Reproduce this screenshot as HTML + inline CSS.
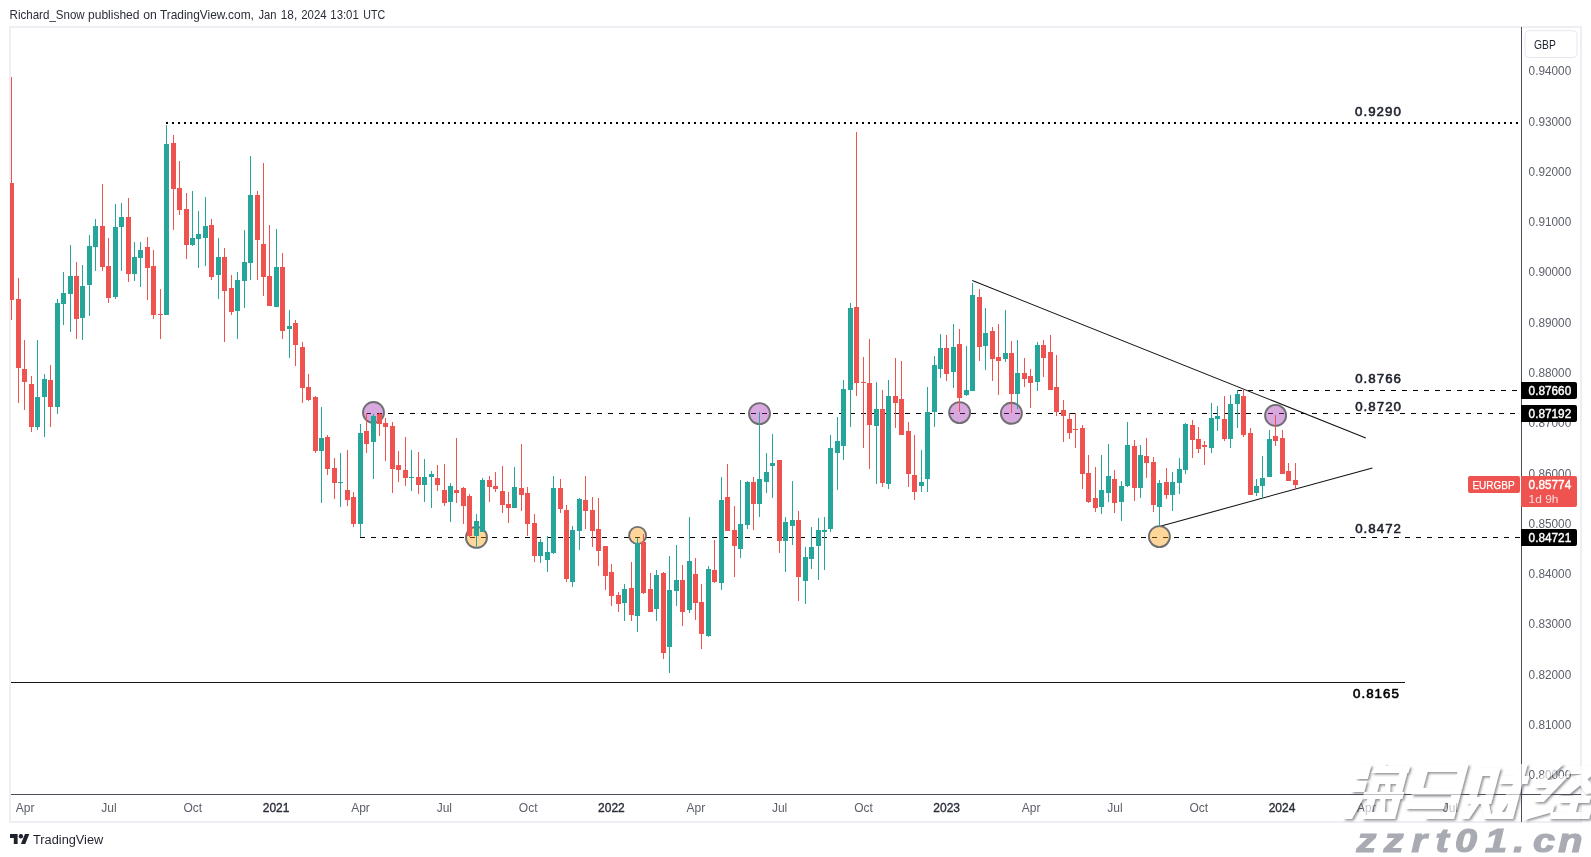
<!DOCTYPE html>
<html><head><meta charset="utf-8"><title>EURGBP chart</title>
<style>
html,body{margin:0;padding:0;background:#fff;}
body{width:1591px;height:857px;overflow:hidden;position:relative;font-family:"Liberation Sans",sans-serif;}
svg{position:absolute;left:0;top:0;}
text{font-family:"Liberation Sans",sans-serif;}
.ax{font-size:12px;fill:#5d606b;}
.tm{font-size:12px;fill:#5d606b;text-anchor:middle;}
.tmb{font-size:12px;fill:#2a2e39;text-anchor:middle;stroke:#2a2e39;stroke-width:0.35px;}
.lbl{font-size:13.3px;fill:#1e222d;stroke:#1e222d;stroke-width:0.6px;stroke-linejoin:round;}
.tag{font-size:12px;fill:#fff;stroke:#fff;stroke-width:0.4px;}
</style></head><body>
<svg width="1591" height="857" viewBox="0 0 1591 857" style="will-change:transform">

<text x="9.6" y="19" font-size="12.4px" fill="#2a2e39" textLength="75.1" lengthAdjust="spacingAndGlyphs">Richard_Snow</text>
<text x="88.0" y="19" font-size="12.4px" fill="#2a2e39" textLength="51.5" lengthAdjust="spacingAndGlyphs">published</text>
<text x="143.3" y="19" font-size="12.4px" fill="#2a2e39" textLength="13.6" lengthAdjust="spacingAndGlyphs">on</text>
<text x="159.9" y="19" font-size="12.4px" fill="#2a2e39" textLength="94.0" lengthAdjust="spacingAndGlyphs">TradingView.com,</text>
<text x="258.5" y="19" font-size="12.4px" fill="#2a2e39" textLength="18.0" lengthAdjust="spacingAndGlyphs">Jan</text>
<text x="280.8" y="19" font-size="12.4px" fill="#2a2e39" textLength="16.4" lengthAdjust="spacingAndGlyphs">18,</text>
<text x="301.2" y="19" font-size="12.4px" fill="#2a2e39" textLength="25.4" lengthAdjust="spacingAndGlyphs">2024</text>
<text x="330.3" y="19" font-size="12.4px" fill="#2a2e39" textLength="28.5" lengthAdjust="spacingAndGlyphs">13:01</text>
<text x="363.3" y="19" font-size="12.4px" fill="#2a2e39" textLength="21.9" lengthAdjust="spacingAndGlyphs">UTC</text>
<rect x="10" y="27" width="1571" height="795" fill="#fff" stroke="#eeeff5" stroke-width="2"/>
<defs><clipPath id="cp"><rect x="10" y="28" width="1511" height="766"/></clipPath></defs>
<g clip-path="url(#cp)">
<line x1="166" y1="123" x2="1521" y2="123" stroke="#000" stroke-width="2" stroke-dasharray="2 4" shape-rendering="crispEdges"/>
<line x1="1237" y1="390.5" x2="1521" y2="390.5" stroke="#000" stroke-width="1" stroke-dasharray="5 6" stroke-dashoffset="0" shape-rendering="crispEdges"/>
<line x1="366" y1="413.5" x2="1521" y2="413.5" stroke="#000" stroke-width="1" stroke-dasharray="5 6" stroke-dashoffset="0" shape-rendering="crispEdges"/>
<line x1="360" y1="537.5" x2="1521" y2="537.5" stroke="#000" stroke-width="1" stroke-dasharray="5 6" stroke-dashoffset="0" shape-rendering="crispEdges"/>
<line x1="11" y1="682.5" x2="1404.8" y2="682.5" stroke="#151515" stroke-width="1" shape-rendering="crispEdges"/>
<line x1="972.3" y1="280.5" x2="1365.8" y2="438" stroke="#111" stroke-width="1.05"/>
<line x1="1159.4" y1="526.5" x2="1372.4" y2="467.9" stroke="#111" stroke-width="1.05"/>
<circle cx="373.5" cy="412.5" r="10.5" fill="#9c27b0" fill-opacity="0.4" stroke="#6f6f72" stroke-width="1.9"/>
<circle cx="759.5" cy="413.6" r="10.5" fill="#9c27b0" fill-opacity="0.4" stroke="#6f6f72" stroke-width="1.9"/>
<circle cx="959.6" cy="412.6" r="10.5" fill="#9c27b0" fill-opacity="0.4" stroke="#6f6f72" stroke-width="1.9"/>
<circle cx="1011.4" cy="413.3" r="10.5" fill="#9c27b0" fill-opacity="0.4" stroke="#6f6f72" stroke-width="1.9"/>
<circle cx="1275.6" cy="415.4" r="10.5" fill="#9c27b0" fill-opacity="0.4" stroke="#6f6f72" stroke-width="1.9"/>
<circle cx="476.5" cy="537.4" r="10.5" fill="#ff9800" fill-opacity="0.4" stroke="#6f6f72" stroke-width="1.9"/>
<circle cx="637.6" cy="535.4" r="8.5" fill="#ff9800" fill-opacity="0.4" stroke="#6f6f72" stroke-width="1.9"/>
<circle cx="1159.4" cy="536.6" r="10.5" fill="#ff9800" fill-opacity="0.4" stroke="#6f6f72" stroke-width="1.9"/>
<g shape-rendering="crispEdges">
<rect x="11" y="77" width="1" height="243" fill="#ef5350"/><rect x="9" y="183" width="5" height="117" fill="#ef5350"/>
<rect x="18" y="278" width="1" height="125" fill="#ef5350"/><rect x="16" y="299" width="5" height="69" fill="#ef5350"/>
<rect x="24" y="340" width="1" height="70" fill="#ef5350"/><rect x="22" y="369" width="5" height="13" fill="#ef5350"/>
<rect x="31" y="376" width="1" height="56" fill="#ef5350"/><rect x="29" y="384" width="5" height="43" fill="#ef5350"/>
<rect x="37" y="340" width="1" height="90" fill="#26a69a"/><rect x="35" y="397" width="5" height="30" fill="#26a69a"/>
<rect x="44" y="374" width="1" height="63" fill="#26a69a"/><rect x="42" y="379" width="5" height="18" fill="#26a69a"/>
<rect x="50" y="365" width="1" height="62" fill="#ef5350"/><rect x="48" y="380" width="5" height="27" fill="#ef5350"/>
<rect x="57" y="299" width="1" height="115" fill="#26a69a"/><rect x="55" y="303" width="5" height="104" fill="#26a69a"/>
<rect x="63" y="272" width="1" height="53" fill="#26a69a"/><rect x="61" y="293" width="5" height="11" fill="#26a69a"/>
<rect x="70" y="245" width="1" height="87" fill="#26a69a"/><rect x="68" y="276" width="5" height="18" fill="#26a69a"/>
<rect x="76" y="262" width="1" height="77" fill="#ef5350"/><rect x="74" y="276" width="5" height="43" fill="#ef5350"/>
<rect x="82" y="265" width="1" height="75" fill="#26a69a"/><rect x="80" y="286" width="5" height="32" fill="#26a69a"/>
<rect x="89" y="235" width="1" height="81" fill="#26a69a"/><rect x="87" y="246" width="5" height="39" fill="#26a69a"/>
<rect x="95" y="219" width="1" height="52" fill="#26a69a"/><rect x="93" y="226" width="5" height="21" fill="#26a69a"/>
<rect x="102" y="184" width="1" height="87" fill="#ef5350"/><rect x="100" y="226" width="5" height="41" fill="#ef5350"/>
<rect x="108" y="238" width="1" height="65" fill="#ef5350"/><rect x="106" y="266" width="5" height="32" fill="#ef5350"/>
<rect x="115" y="204" width="1" height="95" fill="#26a69a"/><rect x="113" y="227" width="5" height="70" fill="#26a69a"/>
<rect x="121" y="203" width="1" height="68" fill="#26a69a"/><rect x="119" y="217" width="5" height="10" fill="#26a69a"/>
<rect x="128" y="198" width="1" height="84" fill="#ef5350"/><rect x="126" y="217" width="5" height="57" fill="#ef5350"/>
<rect x="134" y="242" width="1" height="39" fill="#26a69a"/><rect x="132" y="257" width="5" height="17" fill="#26a69a"/>
<rect x="140" y="242" width="1" height="45" fill="#26a69a"/><rect x="138" y="250" width="5" height="8" fill="#26a69a"/>
<rect x="147" y="237" width="1" height="63" fill="#ef5350"/><rect x="145" y="247" width="5" height="21" fill="#ef5350"/>
<rect x="153" y="250" width="1" height="69" fill="#ef5350"/><rect x="151" y="266" width="5" height="49" fill="#ef5350"/>
<rect x="160" y="289" width="1" height="50" fill="#ef5350"/><rect x="158" y="314" width="5" height="1" fill="#ef5350"/>
<rect x="166" y="125" width="1" height="190" fill="#26a69a"/><rect x="164" y="144" width="5" height="171" fill="#26a69a"/>
<rect x="173" y="135" width="1" height="95" fill="#ef5350"/><rect x="171" y="143" width="5" height="46" fill="#ef5350"/>
<rect x="179" y="161" width="1" height="54" fill="#ef5350"/><rect x="177" y="188" width="5" height="22" fill="#ef5350"/>
<rect x="186" y="193" width="1" height="66" fill="#ef5350"/><rect x="184" y="209" width="5" height="36" fill="#ef5350"/>
<rect x="192" y="191" width="1" height="55" fill="#26a69a"/><rect x="190" y="238" width="5" height="7" fill="#26a69a"/>
<rect x="198" y="211" width="1" height="57" fill="#26a69a"/><rect x="196" y="234" width="5" height="5" fill="#26a69a"/>
<rect x="205" y="197" width="1" height="69" fill="#26a69a"/><rect x="203" y="226" width="5" height="12" fill="#26a69a"/>
<rect x="211" y="219" width="1" height="61" fill="#ef5350"/><rect x="209" y="225" width="5" height="52" fill="#ef5350"/>
<rect x="218" y="238" width="1" height="61" fill="#26a69a"/><rect x="216" y="257" width="5" height="18" fill="#26a69a"/>
<rect x="224" y="248" width="1" height="94" fill="#ef5350"/><rect x="222" y="257" width="5" height="34" fill="#ef5350"/>
<rect x="231" y="275" width="1" height="40" fill="#ef5350"/><rect x="229" y="288" width="5" height="24" fill="#ef5350"/>
<rect x="237" y="272" width="1" height="67" fill="#26a69a"/><rect x="235" y="280" width="5" height="31" fill="#26a69a"/>
<rect x="244" y="230" width="1" height="78" fill="#26a69a"/><rect x="242" y="262" width="5" height="19" fill="#26a69a"/>
<rect x="250" y="156" width="1" height="124" fill="#26a69a"/><rect x="248" y="195" width="5" height="68" fill="#26a69a"/>
<rect x="257" y="191" width="1" height="89" fill="#ef5350"/><rect x="255" y="195" width="5" height="45" fill="#ef5350"/>
<rect x="263" y="163" width="1" height="133" fill="#ef5350"/><rect x="261" y="244" width="5" height="33" fill="#ef5350"/>
<rect x="269" y="225" width="1" height="81" fill="#ef5350"/><rect x="267" y="276" width="5" height="30" fill="#ef5350"/>
<rect x="276" y="229" width="1" height="78" fill="#26a69a"/><rect x="274" y="267" width="5" height="40" fill="#26a69a"/>
<rect x="282" y="253" width="1" height="86" fill="#ef5350"/><rect x="280" y="267" width="5" height="64" fill="#ef5350"/>
<rect x="289" y="310" width="1" height="48" fill="#26a69a"/><rect x="287" y="326" width="5" height="3" fill="#26a69a"/>
<rect x="295" y="320" width="1" height="46" fill="#ef5350"/><rect x="293" y="323" width="5" height="22" fill="#ef5350"/>
<rect x="302" y="342" width="1" height="61" fill="#ef5350"/><rect x="300" y="347" width="5" height="41" fill="#ef5350"/>
<rect x="308" y="374" width="1" height="27" fill="#ef5350"/><rect x="306" y="387" width="5" height="13" fill="#ef5350"/>
<rect x="315" y="396" width="1" height="57" fill="#ef5350"/><rect x="313" y="397" width="5" height="54" fill="#ef5350"/>
<rect x="321" y="407" width="1" height="96" fill="#26a69a"/><rect x="319" y="438" width="5" height="13" fill="#26a69a"/>
<rect x="327" y="435" width="1" height="40" fill="#ef5350"/><rect x="325" y="437" width="5" height="32" fill="#ef5350"/>
<rect x="334" y="458" width="1" height="41" fill="#ef5350"/><rect x="332" y="468" width="5" height="15" fill="#ef5350"/>
<rect x="340" y="453" width="1" height="54" fill="#26a69a"/><rect x="338" y="482" width="5" height="1" fill="#26a69a"/>
<rect x="347" y="450" width="1" height="56" fill="#ef5350"/><rect x="345" y="490" width="5" height="10" fill="#ef5350"/>
<rect x="353" y="492" width="1" height="35" fill="#ef5350"/><rect x="351" y="497" width="5" height="27" fill="#ef5350"/>
<rect x="360" y="424" width="1" height="113" fill="#26a69a"/><rect x="358" y="433" width="5" height="91" fill="#26a69a"/>
<rect x="366" y="413" width="1" height="40" fill="#ef5350"/><rect x="364" y="431" width="5" height="13" fill="#ef5350"/>
<rect x="373" y="414" width="1" height="65" fill="#26a69a"/><rect x="371" y="416" width="5" height="26" fill="#26a69a"/>
<rect x="379" y="413" width="1" height="23" fill="#ef5350"/><rect x="377" y="414" width="5" height="10" fill="#ef5350"/>
<rect x="385" y="418" width="1" height="43" fill="#ef5350"/><rect x="383" y="423" width="5" height="4" fill="#ef5350"/>
<rect x="392" y="422" width="1" height="71" fill="#ef5350"/><rect x="390" y="426" width="5" height="43" fill="#ef5350"/>
<rect x="398" y="451" width="1" height="31" fill="#ef5350"/><rect x="396" y="465" width="5" height="5" fill="#ef5350"/>
<rect x="405" y="437" width="1" height="49" fill="#ef5350"/><rect x="403" y="470" width="5" height="8" fill="#ef5350"/>
<rect x="411" y="450" width="1" height="41" fill="#26a69a"/><rect x="409" y="477" width="5" height="1" fill="#26a69a"/>
<rect x="418" y="452" width="1" height="42" fill="#ef5350"/><rect x="416" y="477" width="5" height="8" fill="#ef5350"/>
<rect x="424" y="459" width="1" height="43" fill="#26a69a"/><rect x="422" y="477" width="5" height="8" fill="#26a69a"/>
<rect x="431" y="471" width="1" height="37" fill="#26a69a"/><rect x="429" y="474" width="5" height="3" fill="#26a69a"/>
<rect x="437" y="465" width="1" height="26" fill="#ef5350"/><rect x="435" y="478" width="5" height="7" fill="#ef5350"/>
<rect x="444" y="464" width="1" height="42" fill="#ef5350"/><rect x="442" y="490" width="5" height="13" fill="#ef5350"/>
<rect x="450" y="483" width="1" height="39" fill="#26a69a"/><rect x="448" y="486" width="5" height="16" fill="#26a69a"/>
<rect x="456" y="438" width="1" height="65" fill="#ef5350"/><rect x="454" y="490" width="5" height="3" fill="#ef5350"/>
<rect x="463" y="487" width="1" height="37" fill="#ef5350"/><rect x="461" y="488" width="5" height="18" fill="#ef5350"/>
<rect x="469" y="494" width="1" height="43" fill="#ef5350"/><rect x="467" y="496" width="5" height="40" fill="#ef5350"/>
<rect x="476" y="514" width="1" height="34" fill="#26a69a"/><rect x="474" y="521" width="5" height="15" fill="#26a69a"/>
<rect x="482" y="478" width="1" height="54" fill="#26a69a"/><rect x="480" y="480" width="5" height="52" fill="#26a69a"/>
<rect x="489" y="476" width="1" height="26" fill="#ef5350"/><rect x="487" y="480" width="5" height="7" fill="#ef5350"/>
<rect x="495" y="472" width="1" height="20" fill="#ef5350"/><rect x="493" y="486" width="5" height="3" fill="#ef5350"/>
<rect x="502" y="466" width="1" height="47" fill="#ef5350"/><rect x="500" y="491" width="5" height="14" fill="#ef5350"/>
<rect x="508" y="492" width="1" height="31" fill="#ef5350"/><rect x="506" y="504" width="5" height="4" fill="#ef5350"/>
<rect x="514" y="467" width="1" height="41" fill="#26a69a"/><rect x="512" y="487" width="5" height="21" fill="#26a69a"/>
<rect x="521" y="444" width="1" height="67" fill="#ef5350"/><rect x="519" y="488" width="5" height="7" fill="#ef5350"/>
<rect x="527" y="487" width="1" height="49" fill="#ef5350"/><rect x="525" y="493" width="5" height="31" fill="#ef5350"/>
<rect x="534" y="514" width="1" height="48" fill="#ef5350"/><rect x="532" y="523" width="5" height="33" fill="#ef5350"/>
<rect x="540" y="539" width="1" height="24" fill="#26a69a"/><rect x="538" y="542" width="5" height="14" fill="#26a69a"/>
<rect x="547" y="536" width="1" height="36" fill="#26a69a"/><rect x="545" y="552" width="5" height="8" fill="#26a69a"/>
<rect x="553" y="476" width="1" height="78" fill="#26a69a"/><rect x="551" y="488" width="5" height="65" fill="#26a69a"/>
<rect x="560" y="479" width="1" height="34" fill="#ef5350"/><rect x="558" y="488" width="5" height="21" fill="#ef5350"/>
<rect x="566" y="505" width="1" height="77" fill="#ef5350"/><rect x="564" y="510" width="5" height="69" fill="#ef5350"/>
<rect x="572" y="526" width="1" height="61" fill="#26a69a"/><rect x="570" y="530" width="5" height="52" fill="#26a69a"/>
<rect x="579" y="498" width="1" height="52" fill="#26a69a"/><rect x="577" y="499" width="5" height="32" fill="#26a69a"/>
<rect x="585" y="476" width="1" height="53" fill="#ef5350"/><rect x="583" y="500" width="5" height="11" fill="#ef5350"/>
<rect x="592" y="497" width="1" height="50" fill="#ef5350"/><rect x="590" y="510" width="5" height="21" fill="#ef5350"/>
<rect x="598" y="498" width="1" height="68" fill="#ef5350"/><rect x="596" y="529" width="5" height="22" fill="#ef5350"/>
<rect x="605" y="546" width="1" height="44" fill="#ef5350"/><rect x="603" y="546" width="5" height="30" fill="#ef5350"/>
<rect x="611" y="564" width="1" height="42" fill="#ef5350"/><rect x="609" y="572" width="5" height="24" fill="#ef5350"/>
<rect x="618" y="592" width="1" height="20" fill="#ef5350"/><rect x="616" y="595" width="5" height="9" fill="#ef5350"/>
<rect x="624" y="584" width="1" height="37" fill="#26a69a"/><rect x="622" y="589" width="5" height="14" fill="#26a69a"/>
<rect x="631" y="562" width="1" height="59" fill="#ef5350"/><rect x="629" y="588" width="5" height="27" fill="#ef5350"/>
<rect x="637" y="538" width="1" height="94" fill="#26a69a"/><rect x="635" y="543" width="5" height="73" fill="#26a69a"/>
<rect x="643" y="534" width="1" height="60" fill="#ef5350"/><rect x="641" y="542" width="5" height="51" fill="#ef5350"/>
<rect x="650" y="573" width="1" height="39" fill="#ef5350"/><rect x="648" y="589" width="5" height="23" fill="#ef5350"/>
<rect x="656" y="570" width="1" height="51" fill="#26a69a"/><rect x="654" y="575" width="5" height="34" fill="#26a69a"/>
<rect x="663" y="572" width="1" height="87" fill="#ef5350"/><rect x="661" y="573" width="5" height="80" fill="#ef5350"/>
<rect x="669" y="556" width="1" height="117" fill="#26a69a"/><rect x="667" y="590" width="5" height="57" fill="#26a69a"/>
<rect x="676" y="545" width="1" height="61" fill="#26a69a"/><rect x="674" y="580" width="5" height="11" fill="#26a69a"/>
<rect x="682" y="565" width="1" height="61" fill="#ef5350"/><rect x="680" y="580" width="5" height="32" fill="#ef5350"/>
<rect x="689" y="517" width="1" height="96" fill="#26a69a"/><rect x="687" y="561" width="5" height="49" fill="#26a69a"/>
<rect x="695" y="558" width="1" height="62" fill="#ef5350"/><rect x="693" y="574" width="5" height="29" fill="#ef5350"/>
<rect x="701" y="584" width="1" height="65" fill="#ef5350"/><rect x="699" y="602" width="5" height="32" fill="#ef5350"/>
<rect x="708" y="566" width="1" height="71" fill="#26a69a"/><rect x="706" y="569" width="5" height="67" fill="#26a69a"/>
<rect x="714" y="540" width="1" height="43" fill="#ef5350"/><rect x="712" y="570" width="5" height="12" fill="#ef5350"/>
<rect x="721" y="477" width="1" height="113" fill="#26a69a"/><rect x="719" y="500" width="5" height="83" fill="#26a69a"/>
<rect x="727" y="464" width="1" height="67" fill="#ef5350"/><rect x="725" y="497" width="5" height="34" fill="#ef5350"/>
<rect x="734" y="506" width="1" height="71" fill="#ef5350"/><rect x="732" y="530" width="5" height="16" fill="#ef5350"/>
<rect x="740" y="480" width="1" height="78" fill="#26a69a"/><rect x="738" y="524" width="5" height="25" fill="#26a69a"/>
<rect x="747" y="481" width="1" height="48" fill="#26a69a"/><rect x="745" y="482" width="5" height="43" fill="#26a69a"/>
<rect x="753" y="477" width="1" height="53" fill="#ef5350"/><rect x="751" y="482" width="5" height="22" fill="#ef5350"/>
<rect x="759" y="412" width="1" height="105" fill="#26a69a"/><rect x="757" y="479" width="5" height="25" fill="#26a69a"/>
<rect x="766" y="453" width="1" height="40" fill="#26a69a"/><rect x="764" y="472" width="5" height="10" fill="#26a69a"/>
<rect x="772" y="434" width="1" height="64" fill="#26a69a"/><rect x="770" y="463" width="5" height="3" fill="#26a69a"/>
<rect x="779" y="460" width="1" height="93" fill="#ef5350"/><rect x="777" y="460" width="5" height="81" fill="#ef5350"/>
<rect x="785" y="517" width="1" height="55" fill="#26a69a"/><rect x="783" y="522" width="5" height="19" fill="#26a69a"/>
<rect x="792" y="481" width="1" height="64" fill="#26a69a"/><rect x="790" y="520" width="5" height="6" fill="#26a69a"/>
<rect x="798" y="511" width="1" height="90" fill="#ef5350"/><rect x="796" y="520" width="5" height="57" fill="#ef5350"/>
<rect x="805" y="547" width="1" height="57" fill="#26a69a"/><rect x="803" y="557" width="5" height="24" fill="#26a69a"/>
<rect x="811" y="527" width="1" height="42" fill="#26a69a"/><rect x="809" y="547" width="5" height="12" fill="#26a69a"/>
<rect x="818" y="518" width="1" height="62" fill="#26a69a"/><rect x="816" y="530" width="5" height="16" fill="#26a69a"/>
<rect x="824" y="517" width="1" height="53" fill="#26a69a"/><rect x="822" y="530" width="5" height="2" fill="#26a69a"/>
<rect x="830" y="435" width="1" height="97" fill="#26a69a"/><rect x="828" y="448" width="5" height="81" fill="#26a69a"/>
<rect x="837" y="417" width="1" height="73" fill="#26a69a"/><rect x="835" y="441" width="5" height="12" fill="#26a69a"/>
<rect x="843" y="380" width="1" height="80" fill="#26a69a"/><rect x="841" y="389" width="5" height="57" fill="#26a69a"/>
<rect x="850" y="303" width="1" height="124" fill="#26a69a"/><rect x="848" y="308" width="5" height="82" fill="#26a69a"/>
<rect x="856" y="132" width="1" height="264" fill="#ef5350"/><rect x="854" y="307" width="5" height="76" fill="#ef5350"/>
<rect x="863" y="357" width="1" height="91" fill="#ef5350"/><rect x="861" y="382" width="5" height="1" fill="#ef5350"/>
<rect x="869" y="339" width="1" height="130" fill="#ef5350"/><rect x="867" y="383" width="5" height="42" fill="#ef5350"/>
<rect x="876" y="382" width="1" height="102" fill="#26a69a"/><rect x="874" y="409" width="5" height="17" fill="#26a69a"/>
<rect x="882" y="390" width="1" height="97" fill="#ef5350"/><rect x="880" y="409" width="5" height="74" fill="#ef5350"/>
<rect x="888" y="380" width="1" height="109" fill="#26a69a"/><rect x="886" y="396" width="5" height="88" fill="#26a69a"/>
<rect x="895" y="358" width="1" height="70" fill="#ef5350"/><rect x="893" y="396" width="5" height="7" fill="#ef5350"/>
<rect x="901" y="361" width="1" height="74" fill="#ef5350"/><rect x="899" y="399" width="5" height="36" fill="#ef5350"/>
<rect x="908" y="422" width="1" height="65" fill="#ef5350"/><rect x="906" y="431" width="5" height="43" fill="#ef5350"/>
<rect x="914" y="435" width="1" height="65" fill="#ef5350"/><rect x="912" y="475" width="5" height="17" fill="#ef5350"/>
<rect x="921" y="450" width="1" height="42" fill="#26a69a"/><rect x="919" y="482" width="5" height="4" fill="#26a69a"/>
<rect x="927" y="387" width="1" height="105" fill="#26a69a"/><rect x="925" y="412" width="5" height="67" fill="#26a69a"/>
<rect x="934" y="356" width="1" height="71" fill="#26a69a"/><rect x="932" y="365" width="5" height="47" fill="#26a69a"/>
<rect x="940" y="334" width="1" height="44" fill="#26a69a"/><rect x="938" y="348" width="5" height="21" fill="#26a69a"/>
<rect x="946" y="335" width="1" height="46" fill="#ef5350"/><rect x="944" y="348" width="5" height="26" fill="#ef5350"/>
<rect x="953" y="324" width="1" height="64" fill="#26a69a"/><rect x="951" y="347" width="5" height="25" fill="#26a69a"/>
<rect x="959" y="329" width="1" height="83" fill="#ef5350"/><rect x="957" y="344" width="5" height="54" fill="#ef5350"/>
<rect x="966" y="346" width="1" height="50" fill="#26a69a"/><rect x="964" y="390" width="5" height="5" fill="#26a69a"/>
<rect x="972" y="283" width="1" height="108" fill="#26a69a"/><rect x="970" y="295" width="5" height="96" fill="#26a69a"/>
<rect x="979" y="289" width="1" height="72" fill="#ef5350"/><rect x="977" y="297" width="5" height="50" fill="#ef5350"/>
<rect x="985" y="308" width="1" height="62" fill="#26a69a"/><rect x="983" y="333" width="5" height="13" fill="#26a69a"/>
<rect x="992" y="327" width="1" height="54" fill="#ef5350"/><rect x="990" y="331" width="5" height="28" fill="#ef5350"/>
<rect x="998" y="324" width="1" height="71" fill="#ef5350"/><rect x="996" y="357" width="5" height="4" fill="#ef5350"/>
<rect x="1005" y="310" width="1" height="52" fill="#26a69a"/><rect x="1003" y="353" width="5" height="6" fill="#26a69a"/>
<rect x="1011" y="341" width="1" height="72" fill="#ef5350"/><rect x="1009" y="353" width="5" height="41" fill="#ef5350"/>
<rect x="1017" y="340" width="1" height="69" fill="#26a69a"/><rect x="1015" y="373" width="5" height="21" fill="#26a69a"/>
<rect x="1024" y="358" width="1" height="29" fill="#ef5350"/><rect x="1022" y="373" width="5" height="6" fill="#ef5350"/>
<rect x="1030" y="369" width="1" height="39" fill="#ef5350"/><rect x="1028" y="376" width="5" height="7" fill="#ef5350"/>
<rect x="1037" y="342" width="1" height="49" fill="#26a69a"/><rect x="1035" y="345" width="5" height="37" fill="#26a69a"/>
<rect x="1043" y="340" width="1" height="37" fill="#ef5350"/><rect x="1041" y="345" width="5" height="13" fill="#ef5350"/>
<rect x="1050" y="335" width="1" height="55" fill="#ef5350"/><rect x="1048" y="352" width="5" height="38" fill="#ef5350"/>
<rect x="1056" y="355" width="1" height="61" fill="#ef5350"/><rect x="1054" y="387" width="5" height="25" fill="#ef5350"/>
<rect x="1063" y="400" width="1" height="42" fill="#ef5350"/><rect x="1061" y="410" width="5" height="6" fill="#ef5350"/>
<rect x="1069" y="413" width="1" height="26" fill="#ef5350"/><rect x="1067" y="419" width="5" height="14" fill="#ef5350"/>
<rect x="1075" y="413" width="1" height="35" fill="#ef5350"/><rect x="1073" y="429" width="5" height="1" fill="#ef5350"/>
<rect x="1082" y="425" width="1" height="64" fill="#ef5350"/><rect x="1080" y="428" width="5" height="46" fill="#ef5350"/>
<rect x="1088" y="455" width="1" height="48" fill="#ef5350"/><rect x="1086" y="473" width="5" height="29" fill="#ef5350"/>
<rect x="1095" y="467" width="1" height="45" fill="#ef5350"/><rect x="1093" y="498" width="5" height="10" fill="#ef5350"/>
<rect x="1101" y="455" width="1" height="59" fill="#26a69a"/><rect x="1099" y="490" width="5" height="17" fill="#26a69a"/>
<rect x="1108" y="444" width="1" height="58" fill="#26a69a"/><rect x="1106" y="476" width="5" height="17" fill="#26a69a"/>
<rect x="1114" y="470" width="1" height="43" fill="#ef5350"/><rect x="1112" y="479" width="5" height="24" fill="#ef5350"/>
<rect x="1121" y="481" width="1" height="40" fill="#26a69a"/><rect x="1119" y="486" width="5" height="16" fill="#26a69a"/>
<rect x="1127" y="422" width="1" height="65" fill="#26a69a"/><rect x="1125" y="445" width="5" height="41" fill="#26a69a"/>
<rect x="1134" y="440" width="1" height="61" fill="#ef5350"/><rect x="1132" y="446" width="5" height="42" fill="#ef5350"/>
<rect x="1140" y="445" width="1" height="53" fill="#26a69a"/><rect x="1138" y="455" width="5" height="33" fill="#26a69a"/>
<rect x="1146" y="438" width="1" height="40" fill="#ef5350"/><rect x="1144" y="456" width="5" height="7" fill="#ef5350"/>
<rect x="1153" y="457" width="1" height="55" fill="#ef5350"/><rect x="1151" y="462" width="5" height="43" fill="#ef5350"/>
<rect x="1159" y="480" width="1" height="46" fill="#26a69a"/><rect x="1157" y="483" width="5" height="24" fill="#26a69a"/>
<rect x="1166" y="468" width="1" height="31" fill="#ef5350"/><rect x="1164" y="482" width="5" height="13" fill="#ef5350"/>
<rect x="1172" y="472" width="1" height="39" fill="#26a69a"/><rect x="1170" y="482" width="5" height="13" fill="#26a69a"/>
<rect x="1179" y="458" width="1" height="36" fill="#26a69a"/><rect x="1177" y="469" width="5" height="14" fill="#26a69a"/>
<rect x="1185" y="423" width="1" height="51" fill="#26a69a"/><rect x="1183" y="424" width="5" height="46" fill="#26a69a"/>
<rect x="1192" y="420" width="1" height="38" fill="#ef5350"/><rect x="1190" y="425" width="5" height="15" fill="#ef5350"/>
<rect x="1198" y="427" width="1" height="26" fill="#ef5350"/><rect x="1196" y="439" width="5" height="10" fill="#ef5350"/>
<rect x="1204" y="441" width="1" height="24" fill="#ef5350"/><rect x="1202" y="445" width="5" height="2" fill="#ef5350"/>
<rect x="1211" y="403" width="1" height="50" fill="#26a69a"/><rect x="1209" y="418" width="5" height="30" fill="#26a69a"/>
<rect x="1217" y="406" width="1" height="25" fill="#26a69a"/><rect x="1215" y="416" width="5" height="3" fill="#26a69a"/>
<rect x="1224" y="396" width="1" height="45" fill="#ef5350"/><rect x="1222" y="419" width="5" height="20" fill="#ef5350"/>
<rect x="1230" y="395" width="1" height="53" fill="#26a69a"/><rect x="1228" y="404" width="5" height="35" fill="#26a69a"/>
<rect x="1237" y="390" width="1" height="38" fill="#26a69a"/><rect x="1235" y="394" width="5" height="10" fill="#26a69a"/>
<rect x="1243" y="390" width="1" height="47" fill="#ef5350"/><rect x="1241" y="396" width="5" height="39" fill="#ef5350"/>
<rect x="1250" y="428" width="1" height="67" fill="#ef5350"/><rect x="1248" y="433" width="5" height="62" fill="#ef5350"/>
<rect x="1256" y="479" width="1" height="17" fill="#26a69a"/><rect x="1254" y="486" width="5" height="7" fill="#26a69a"/>
<rect x="1262" y="456" width="1" height="43" fill="#26a69a"/><rect x="1260" y="478" width="5" height="8" fill="#26a69a"/>
<rect x="1269" y="430" width="1" height="47" fill="#26a69a"/><rect x="1267" y="439" width="5" height="38" fill="#26a69a"/>
<rect x="1275" y="415" width="1" height="31" fill="#ef5350"/><rect x="1273" y="436" width="5" height="5" fill="#ef5350"/>
<rect x="1282" y="430" width="1" height="44" fill="#ef5350"/><rect x="1280" y="438" width="5" height="36" fill="#ef5350"/>
<rect x="1288" y="463" width="1" height="18" fill="#ef5350"/><rect x="1286" y="471" width="5" height="10" fill="#ef5350"/>
<rect x="1295" y="463" width="1" height="26" fill="#ef5350"/><rect x="1293" y="480" width="5" height="5" fill="#ef5350"/>
</g>
<text class="lbl" x="1355.0" y="115.5" textLength="45.8" lengthAdjust="spacing" style="fill:#1e222d;stroke:#1e222d">0.9290</text>
<text class="lbl" x="1355.2" y="383.4" textLength="45.8" lengthAdjust="spacing" style="fill:#1e222d;stroke:#1e222d">0.8766</text>
<text class="lbl" x="1355.2" y="410.59999999999997" textLength="45.8" lengthAdjust="spacing" style="fill:#1e222d;stroke:#1e222d">0.8720</text>
<text class="lbl" x="1355.2" y="533.1" textLength="45.8" lengthAdjust="spacing" style="fill:#1e222d;stroke:#1e222d">0.8472</text>
<text class="lbl" x="1353.0" y="697.5" textLength="45.8" lengthAdjust="spacing" style="fill:#000;stroke:#000">0.8165</text>
</g>
<rect x="1521" y="27" width="1" height="795" fill="#4a4e5b"/>
<rect x="11" y="794" width="1570" height="1" fill="#4a4e5b"/>
<text class="ax" x="1528.6" y="75.3" textLength="42.6" lengthAdjust="spacingAndGlyphs">0.94000</text>
<text class="ax" x="1528.6" y="125.6" textLength="42.6" lengthAdjust="spacingAndGlyphs">0.93000</text>
<text class="ax" x="1528.6" y="175.8" textLength="42.6" lengthAdjust="spacingAndGlyphs">0.92000</text>
<text class="ax" x="1528.6" y="226.1" textLength="42.6" lengthAdjust="spacingAndGlyphs">0.91000</text>
<text class="ax" x="1528.6" y="276.4" textLength="42.6" lengthAdjust="spacingAndGlyphs">0.90000</text>
<text class="ax" x="1528.6" y="326.7" textLength="42.6" lengthAdjust="spacingAndGlyphs">0.89000</text>
<text class="ax" x="1528.6" y="376.9" textLength="42.6" lengthAdjust="spacingAndGlyphs">0.88000</text>
<text class="ax" x="1528.6" y="427.2" textLength="42.6" lengthAdjust="spacingAndGlyphs">0.87000</text>
<text class="ax" x="1528.6" y="477.5" textLength="42.6" lengthAdjust="spacingAndGlyphs">0.86000</text>
<text class="ax" x="1528.6" y="527.7" textLength="42.6" lengthAdjust="spacingAndGlyphs">0.85000</text>
<text class="ax" x="1528.6" y="578.0" textLength="42.6" lengthAdjust="spacingAndGlyphs">0.84000</text>
<text class="ax" x="1528.6" y="628.3" textLength="42.6" lengthAdjust="spacingAndGlyphs">0.83000</text>
<text class="ax" x="1528.6" y="678.5" textLength="42.6" lengthAdjust="spacingAndGlyphs">0.82000</text>
<text class="ax" x="1528.6" y="728.8" textLength="42.6" lengthAdjust="spacingAndGlyphs">0.81000</text>
<text class="ax" x="1528.6" y="779.1" textLength="42.6" lengthAdjust="spacingAndGlyphs">0.80000</text>
<rect x="1525" y="30.7" width="52" height="26.8" rx="4" fill="#fff" stroke="#e6e8f0" stroke-width="1"/>
<text x="1534" y="48.7" font-size="12px" fill="#1e222d" textLength="21.8" lengthAdjust="spacingAndGlyphs">GBP</text>
<path d="M1521 382h54a2 2 0 0 1 2 2v13a2 2 0 0 1 -2 2h-54z" fill="#000"/>
<text class="tag" x="1528.6" y="394.8" textLength="42.6" lengthAdjust="spacingAndGlyphs">0.87660</text>
<path d="M1521 405h54a2 2 0 0 1 2 2v13a2 2 0 0 1 -2 2h-54z" fill="#000"/>
<text class="tag" x="1528.6" y="417.8" textLength="42.6" lengthAdjust="spacingAndGlyphs">0.87192</text>
<path d="M1521 529h54a2 2 0 0 1 2 2v13a2 2 0 0 1 -2 2h-54z" fill="#000"/>
<text class="tag" x="1528.6" y="541.8" textLength="42.6" lengthAdjust="spacingAndGlyphs">0.84721</text>
<path d="M1521 476h54a2 2 0 0 1 2 2v27a2 2 0 0 1 -2 2h-54z" fill="#ef5350"/>
<text class="tag" x="1528.6" y="488.8" textLength="42.6" lengthAdjust="spacingAndGlyphs">0.85774</text>
<text x="1528.6" y="502.6" font-size="11.5px" fill="#fff" fill-opacity="0.8" textLength="29.8" lengthAdjust="spacingAndGlyphs">1d 9h</text>
<rect x="1468" y="476" width="52" height="17" rx="2" fill="#ef5350"/>
<text x="1472.4" y="488.7" font-size="11.5px" fill="#fff" stroke="#fff" stroke-width="0.25" textLength="42.3" lengthAdjust="spacingAndGlyphs">EURGBP</text>
<text class="tm" x="25.2" y="812">Apr</text>
<text class="tm" x="109.0" y="812">Jul</text>
<text class="tm" x="192.8" y="812">Oct</text>
<text class="tmb" x="276.1" y="812">2021</text>
<text class="tm" x="360.5" y="812">Apr</text>
<text class="tm" x="444.3" y="812">Jul</text>
<text class="tm" x="528.2" y="812">Oct</text>
<text class="tmb" x="611.4" y="812">2022</text>
<text class="tm" x="695.8" y="812">Apr</text>
<text class="tm" x="779.6" y="812">Jul</text>
<text class="tm" x="863.5" y="812">Oct</text>
<text class="tmb" x="946.7" y="812">2023</text>
<text class="tm" x="1031.1" y="812">Apr</text>
<text class="tm" x="1115.0" y="812">Jul</text>
<text class="tm" x="1198.8" y="812">Oct</text>
<text class="tmb" x="1282.0" y="812">2024</text>
<text class="tm" x="1366.4" y="812">Apr</text>
<text class="tm" x="1450.3" y="812">Jul</text>
<g transform="translate(10,831.9) scale(0.5444)" fill="#1e222d"><path d="M14 22H7V11H0V4h14v18z"/><path d="M28 22h-8l7.5-18h8L28 22z"/><circle cx="20" cy="8" r="4"/></g>
<text x="33" y="843.9" font-size="12.5px" fill="#1e222d" textLength="70.3" lengthAdjust="spacingAndGlyphs">TradingView</text>
<defs><filter id="wsh" x="-5%" y="-10%" width="110%" height="125%"><feDropShadow dx="1.6" dy="1.6" stdDeviation="0.9" flood-color="#4a4b52" flood-opacity="0.95"/></filter></defs>
<g opacity="0.64"><g filter="url(#wsh)" fill="#fff">
<path transform="translate(1343,819) skewX(-15)" d="M2 -54h12v14h-12z M1 -38h13v11h-13z M0 0 L9 0 L15 -22 L6 -22z M20 -55 L29 -55 L25 -46 L16 -46z M19 -53h34v7h-34z M19 -42h8v42h-8z M19 -42h33v7h-33z M44 -53h8v53h-8z M14 -27h40v7h-40z M19 -7h33v7h-33z M33 -35 L38 -35 L40 -27 L35 -27z M32 -20 L37 -20 L40 -7 L35 -7z"/>
<path transform="translate(1403,819) skewX(-15)" d="M4 -54h40v7h-40z M4 -54h8v24h-8z M2 -31h44v7h-44z M42 -55h9v55h-9z M22 -7h27v7h-27z M0 -17h38v7h-38z"/>
<path transform="translate(1461,819) skewX(-15)" d="M2 -51h8v36h-8z M2 -51h24v8h-24z M18 -51h8v36h-8z M2 -22h24v7h-24z M6 -15 L14 -15 L8 0 L0 0z M16 -15 L24 -15 L31 0 L23 0z M29 -43h28v8h-28z M43 -55h9v55h-9z M34 -7h14v7h-14z M43 -35 L51 -35 L36 0 L27 0z"/>
<path transform="translate(1525,819) skewX(-15)" d="M14 -55 L24 -55 L10 -37 L0 -37z M2 -39 L22 -39 L22 -31 L2 -31z M22 -43 L32 -43 L14 -17 L4 -17z M0 -7 L26 -15 L26 -7 L0 1z M30 -53h30v8h-30z M52 -53 L64 -53 L38 -25 L26 -25z M38 -43 L46 -45 L66 -27 L54 -25z M30 -23h30v7h-30z M41 -23h8v20h-8z M24 -7h40v7h-40z"/>
</g></g>
<g font-size="33px" font-weight="bold" font-style="italic" fill="#a9abb3" stroke="#a9abb3" stroke-width="1.2">
<text transform="translate(1356.6,851.7) scale(1.2,1)">z</text>
<text transform="translate(1383.7,851.7) scale(1.2,1)">z</text>
<text transform="translate(1411.5,851.7) scale(1.2,1)">r</text>
<text transform="translate(1435.6,851.7) scale(1.2,1)">t</text>
<text transform="translate(1455.1,851.7) scale(1.2,1)">0</text>
<text transform="translate(1485.1,851.7) scale(1.2,1)">1</text>
<text transform="translate(1513.3,851.7) scale(1.2,1)">.</text>
<text transform="translate(1532.8999999999999,851.7) scale(1.2,1)">c</text>
<text transform="translate(1558.3,851.7) scale(1.2,1)">n</text>
</g>
</svg></body></html>
